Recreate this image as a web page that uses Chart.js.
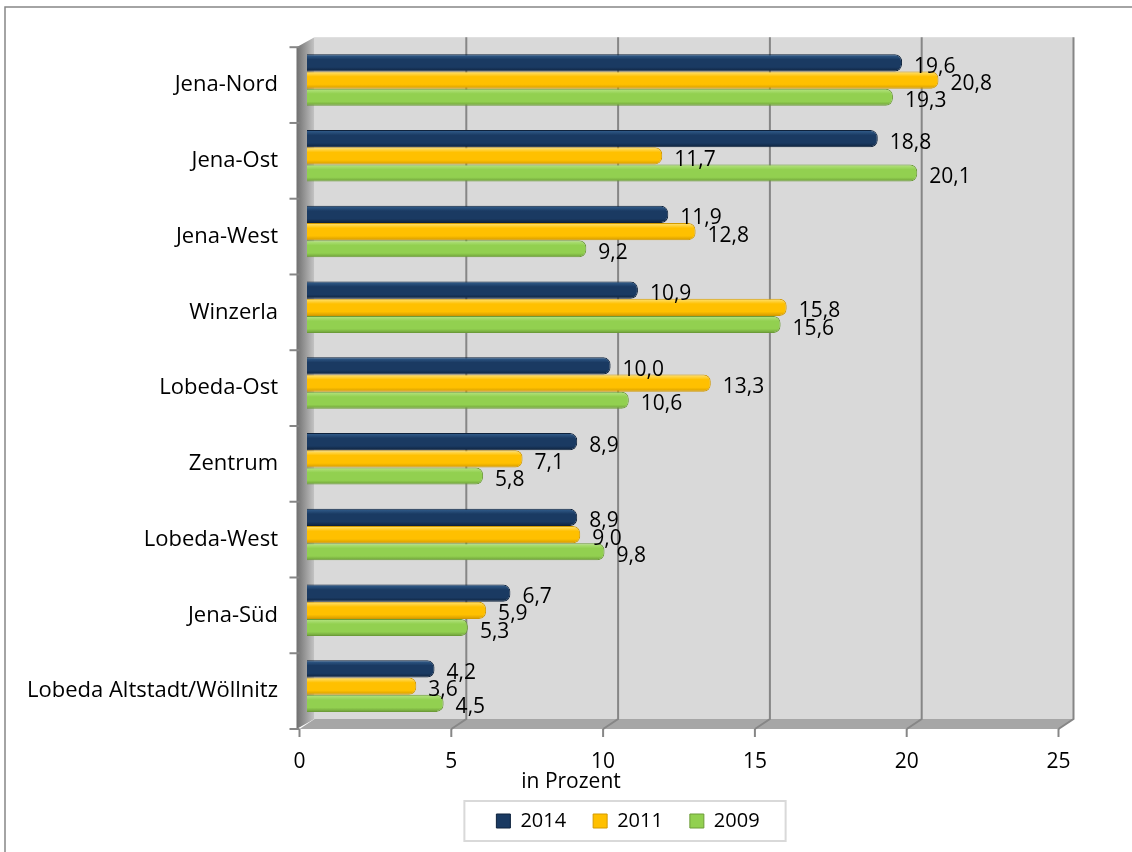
<!DOCTYPE html>
<html>
<head>
<meta charset="utf-8">
<script src="https://cdn.jsdelivr.net/npm/chart.js@4"></script>
<style>
  body { margin: 0; background: #fff; }
</style>
</head>
<body>
<canvas id="barChart" width="1132" height="852"></canvas>
<script>
// Daten
const categories = ['Jena-Nord', 'Jena-Ost', 'Jena-West', 'Winzerla', 'Lobeda-Ost', 'Zentrum', 'Lobeda-West', 'Jena-Süd', 'Lobeda Altstadt/Wöllnitz'];
const values2014 = [19.6, 18.8, 11.9, 10.9, 10.0, 8.9, 8.9, 6.7, 4.2];
const values2011 = [20.8, 11.7, 12.8, 15.8, 13.3, 7.1, 9.0, 5.9, 3.6];
const values2009 = [19.3, 20.1, 9.2, 15.6, 10.6, 5.8, 9.8, 5.3, 4.5];
const seriesLabels = ['2014', '2011', '2009'];
const xTicks = [0, 5, 10, 15, 20, 25];

// Farben (hell, mitte, dunkel)
const navy = ['#34608f', '#1a3a62', '#0e223c'];
const gold = ['#ffe47a', '#ffc000', '#d39a00'];
const green = ['#b8e585', '#92d050', '#6c9c38'];

const font = "'Open Sans', 'Noto Sans', sans-serif";
const depthX = 7.5;
const depthY = 5;
const catPct = 0.68;

// Verlauf pro Balken
function barFill(context, c) {
  let chart = context.chart;
  let ys = chart.scales.y;
  if (!ys || context.type !== 'data') return c[1];
  let band = ys.height / categories.length;
  let h = band * catPct / 3;
  let top = ys.getPixelForValue(context.dataIndex) - band * catPct / 2 + context.datasetIndex * h;
  let g = chart.ctx.createLinearGradient(0, top, 0, top + h);
  g.addColorStop(0, c[0]);
  g.addColorStop(0.3, c[1]);
  g.addColorStop(0.75, c[1]);
  g.addColorStop(1, c[2]);
  return g;
}

// 3D Wände, Boden, Gitter
const wallsPlugin = {
  id: 'walls',
  beforeDatasetsDraw(chart) {
    let ctx = chart.ctx;
    let xs = chart.scales.x;
    let ys = chart.scales.y;
    let a = chart.chartArea;
    let x0 = xs.getPixelForValue(0);
    let x25 = xs.getPixelForValue(25);
    let bt = a.top - depthY, bb = a.bottom - depthY;
    let ft = a.top + depthY, fb = a.bottom + depthY;
    ctx.save();
    // Rückwand
    ctx.fillStyle = '#d9d9d9';
    ctx.fillRect(x0 + depthX, bt, x25 - x0, bb - bt);
    // Boden
    ctx.fillStyle = '#a6a6a6';
    ctx.beginPath();
    ctx.moveTo(x0 - depthX, fb);
    ctx.lineTo(x25 - depthX, fb);
    ctx.lineTo(x25 + depthX, bb);
    ctx.lineTo(x0 + depthX, bb);
    ctx.closePath();
    ctx.fill();
    // linke Wand
    let lg = ctx.createLinearGradient(x0 - depthX - 3, 0, x0 + depthX, 0);
    lg.addColorStop(0, '#6f6f6f');
    lg.addColorStop(1, '#c4c4c4');
    ctx.fillStyle = lg;
    ctx.beginPath();
    ctx.moveTo(x0 - depthX - 3, ft);
    ctx.lineTo(x0 + depthX, bt);
    ctx.lineTo(x0 + depthX, bb);
    ctx.lineTo(x0 - depthX - 3, fb);
    ctx.closePath();
    ctx.fill();
    // Gitterlinien
    ctx.strokeStyle = '#868686';
    ctx.lineWidth = 2;
    xTicks.forEach(function (v) {
      let px = xs.getPixelForValue(v);
      if (v > 0) {
        ctx.beginPath();
        ctx.moveTo(px + depthX, bt);
        ctx.lineTo(px + depthX, bb);
        ctx.lineTo(px - depthX, fb);
        ctx.stroke();
      }
      ctx.beginPath();
      ctx.moveTo(px - depthX, fb);
      ctx.lineTo(px - depthX, fb + 8);
      ctx.stroke();
    });
    // Kategorie-Striche
    let band = ys.height / categories.length;
    for (let i = 0; i <= categories.length; i++) {
      let py = a.top + depthY + i * band;
      ctx.beginPath();
      ctx.moveTo(x0 - depthX - 10, py);
      ctx.lineTo(x0 - depthX, py);
      ctx.stroke();
    }
    ctx.restore();
  }
};

// Werte an den Balken
const valueLabels = {
  id: 'valueLabels',
  afterDatasetsDraw(chart) {
    let ctx = chart.ctx;
    ctx.save();
    ctx.font = '21px ' + font;
    ctx.fillStyle = '#000';
    ctx.textAlign = 'left';
    ctx.textBaseline = 'middle';
    chart.data.datasets.forEach(function (ds, di) {
      chart.getDatasetMeta(di).data.forEach(function (bar, i) {
        let txt = ds.data[i].toFixed(1).replace('.', ',');
        ctx.fillText(txt, bar.x + 12, bar.y + 4);
      });
    });
    ctx.restore();
  }
};

// Rahmen, Achsentitel, Legendenrahmen
const decoPlugin = {
  id: 'deco',
  afterLayout(chart) {
    // Legende nach rechts schieben wie im Original
    chart.legend.left += 190;
  },
  beforeDraw(chart) {
    let ctx = chart.ctx;
    ctx.save();
    ctx.fillStyle = '#fff';
    ctx.fillRect(0, 0, chart.width, chart.height);
    ctx.strokeStyle = '#878787';
    ctx.lineWidth = 1.5;
    ctx.beginPath();
    ctx.moveTo(5, chart.height);
    ctx.lineTo(5, 7);
    ctx.lineTo(chart.width, 7);
    ctx.stroke();
    ctx.restore();
  },
  afterDraw(chart) {
    let ctx = chart.ctx;
    ctx.save();
    ctx.font = '21px ' + font;
    ctx.fillStyle = '#000';
    ctx.textAlign = 'center';
    ctx.textBaseline = 'middle';
    ctx.fillText('in Prozent', 571, 782);
    let boxes = chart.legend.legendHitBoxes;
    if (boxes && boxes.length) {
      let first = boxes[0];
      let last = boxes[boxes.length - 1];
      ctx.strokeStyle = '#d9d9d9';
      ctx.lineWidth = 2;
      ctx.strokeRect(first.left - 32, first.top - 10, last.left + last.width - first.left + 58, first.height + 20);
    }
    ctx.restore();
  }
};

let barCtx = document.getElementById('barChart');
let barChart = new Chart(barCtx, {
  type: 'bar',
  data: {
    labels: categories,
    datasets: [{
      label: seriesLabels[0],
      data: values2014,
      backgroundColor: ctx => barFill(ctx, navy),
      borderColor: navy[2],
    }, {
      label: seriesLabels[1],
      data: values2011,
      backgroundColor: ctx => barFill(ctx, gold),
      borderColor: gold[2],
    }, {
      label: seriesLabels[2],
      data: values2009,
      backgroundColor: ctx => barFill(ctx, green),
      borderColor: green[2],
    }],
  },
  options: {
    indexAxis: 'y',
    responsive: false,
    animation: false,
    layout: {
      padding: { top: 38, left: 0, right: 66, bottom: 11 }
    },
    datasets: {
      bar: {
        categoryPercentage: catPct,
        barPercentage: 1,
        borderWidth: 1,
        borderRadius: 7,
        borderSkipped: 'start',
      }
    },
    scales: {
      x: {
        min: 0,
        max: 25,
        afterBuildTicks: scale => { scale.ticks = xTicks.map(v => ({ value: v })); },
        afterFit: scale => { scale.height = 60; },
        grid: { display: false, drawTicks: false },
        border: { display: false },
        ticks: {
          color: '#000',
          font: { size: 21, family: font },
          padding: 25,
          labelOffset: -depthX,
          maxRotation: 0,
        }
      },
      y: {
        afterFit: scale => { scale.width = 307; },
        grid: { display: false, drawTicks: false },
        border: { display: false },
        ticks: {
          color: '#000',
          autoSkip: false,
          font: { size: 22, family: font },
          padding: 29,
          labelOffset: depthY,
        }
      }
    },
    plugins: {
      legend: {
        position: 'bottom',
        labels: {
          boxWidth: 14,
          boxHeight: 14,
          padding: 27,
          color: '#000',
          font: { size: 20, family: font },
          generateLabels: function (chart) {
            let cols = [navy, gold, green];
            return chart.data.datasets.map((ds, i) => ({
              text: ds.label,
              fillStyle: cols[i][1],
              strokeStyle: cols[i][2],
              lineWidth: 1,
              datasetIndex: i,
              hidden: false,
            }));
          }
        }
      },
      tooltip: { enabled: false },
    },
  },
  plugins: [decoPlugin, wallsPlugin, valueLabels],
});
</script>
</body>
</html>
